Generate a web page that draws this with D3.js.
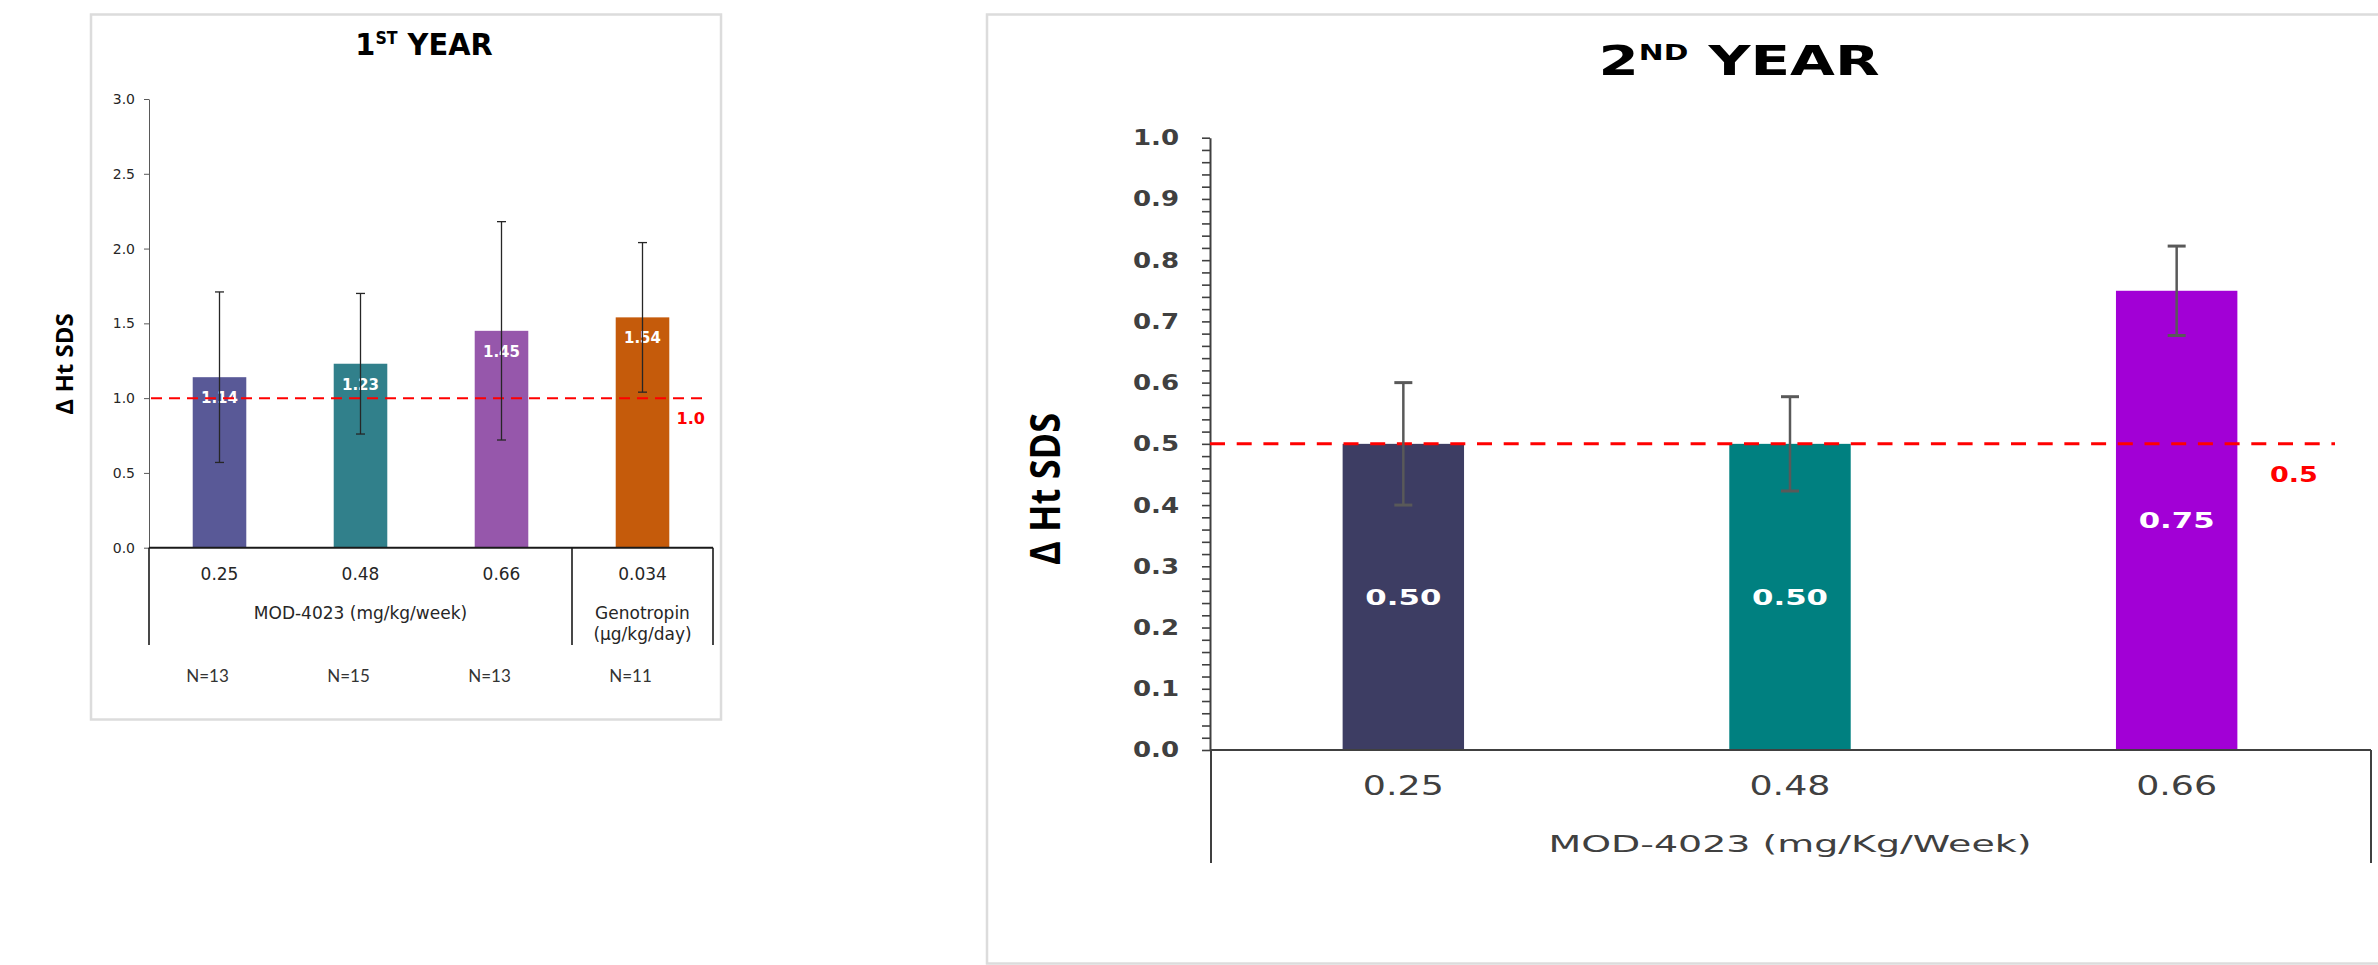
<!DOCTYPE html>
<html>
<head>
<meta charset="utf-8">
<script src="https://cdn.jsdelivr.net/npm/d3@7"></script>
<style>
  body { margin: 0; background: #fff; }
  svg { display: block; }
</style>
</head>
<body>
<div id="chart"></div>
<script>

// 1st year: change in height SDS per dose group
var year1Doses  = ["0.25", "0.48", "0.66", "0.034"];
var year1Means  = [1.14, 1.23, 1.45, 1.54];
var year1Errors = [0.57, 0.47, 0.73, 0.50];
var year1Counts = ["N=13", "N=15", "N=13", "N=11"];
var year1Ticks  = [0, 0.5, 1.0, 1.5, 2.0, 2.5, 3.0];
var year1Target = 1.0;

// 2nd year
var year2Doses  = ["0.25", "0.48", "0.66"];
var year2Means  = [0.50, 0.50, 0.75];
var year2Errors = [0.10, 0.077, 0.073];
var year2Ticks  = [0, 0.1, 0.2, 0.3, 0.4, 0.5, 0.6, 0.7, 0.8, 0.9, 1.0];
var year2Target = 0.5;

var svg = d3.select("#chart").append("svg")
  .attr("width", 2378)
  .attr("height", 965);

// widen a text element horizontally around its own x/y anchor
function stretch(sel, sx) {
  sel.attr("transform", function() {
    var x = +this.getAttribute("x"), y = +this.getAttribute("y");
    return "translate(" + x + "," + y + ") scale(" + sx + ",1) translate(" + (-x) + "," + (-y) + ")";
  });
}

/*
 * Left panel - 1st year
 */
function drawYear1() {
  var g = svg.append("g");

  g.append("rect")
    .attr("x", 91).attr("y", 14.5)
    .attr("width", 630).attr("height", 705)
    .attr("fill", "#fff")
    .attr("stroke", "#dcdcdc")
    .attr("stroke-width", 2.5);

  var data = year1Doses.map(function(d, i) {
    return {dose: d, mean: year1Means[i], err: year1Errors[i], n: year1Counts[i]};
  });

  // Scales
  var x = d3.scaleBand().domain(year1Doses).range([149, 713]);
  var y = d3.scaleLinear().domain([0, 3]).range([547.7, 99]);
  var color = d3.scaleOrdinal().domain(year1Doses)
    .range(["#595997", "#31808b", "#9657ab", "#c55b0b"]);
  var bw = x.bandwidth() * 0.38;
  var cx = function(d) { return x(d.dose) + x.bandwidth() / 2; };

  // Y axis
  g.append("g")
    .attr("transform", "translate(149,0)")
    .call(d3.axisLeft(y).tickValues(year1Ticks).tickSize(5).tickSizeOuter(0)
      .tickPadding(9).tickFormat(d3.format(".1f")))
    .call(function(a) {
      a.select(".domain").attr("stroke", "#595959");
      a.selectAll(".tick line").attr("stroke", "#595959");
      a.selectAll("text")
        .attr("font-family", "DejaVu Sans")
        .attr("font-size", 14)
        .attr("fill", "#262626");
    });

  // Bars
  g.selectAll(".bar1").data(data).enter().append("rect")
    .attr("class", "bar1")
    .attr("x", function(d) { return cx(d) - bw / 2; })
    .attr("width", bw)
    .attr("y", function(d) { return y(d.mean); })
    .attr("height", function(d) { return y(0) - y(d.mean); })
    .attr("fill", function(d) { return color(d.dose); });

  // value labels
  g.selectAll(".val1").data(data).enter().append("text")
    .attr("class", "val1")
    .attr("x", cx)
    .attr("y", function(d) { return y(d.mean) + 26; })
    .attr("text-anchor", "middle")
    .attr("font-family", "DejaVu Sans")
    .attr("font-weight", "bold")
    .attr("font-size", 15)
    .attr("fill", "#fff")
    .text(function(d) { return d.mean.toFixed(2); });

  // reference line
  g.append("line")
    .attr("x1", x.range()[0] + 2).attr("x2", x.range()[1] - 6)
    .attr("y1", y(year1Target)).attr("y2", y(year1Target))
    .attr("stroke", "#ff0000")
    .attr("stroke-width", 2)
    .attr("stroke-dasharray", "11,7");

  g.append("text")
    .attr("x", x.range()[1] - 36.5)
    .attr("y", y(year1Target) + 25.5)
    .attr("font-family", "DejaVu Sans")
    .attr("font-weight", "bold")
    .attr("font-size", 16)
    .attr("fill", "#ff0000")
    .text(year1Target.toFixed(1));

  // Error bars
  var eb = g.selectAll(".err1").data(data).enter().append("g")
    .attr("class", "err1")
    .attr("stroke", "#262626")
    .attr("stroke-width", 1.3);
  eb.append("line")
    .attr("x1", cx).attr("x2", cx)
    .attr("y1", function(d) { return y(d.mean + d.err); })
    .attr("y2", function(d) { return y(d.mean - d.err); });
  eb.append("line")
    .attr("x1", function(d) { return cx(d) - 4.5; })
    .attr("x2", function(d) { return cx(d) + 4.5; })
    .attr("y1", function(d) { return y(d.mean + d.err); })
    .attr("y2", function(d) { return y(d.mean + d.err); });
  eb.append("line")
    .attr("x1", function(d) { return cx(d) - 4.5; })
    .attr("x2", function(d) { return cx(d) + 4.5; })
    .attr("y1", function(d) { return y(d.mean - d.err); })
    .attr("y2", function(d) { return y(d.mean - d.err); });

  // Category axis (table-like)
  var boxBottom = 645;
  g.append("line")
    .attr("x1", x.range()[0]).attr("x2", x.range()[1])
    .attr("y1", y(0)).attr("y2", y(0))
    .attr("stroke", "#1a1a1a").attr("stroke-width", 2);
  [x.range()[0], x("0.034"), x.range()[1]].forEach(function(xx) {
    g.append("line")
      .attr("x1", xx).attr("x2", xx)
      .attr("y1", y(0)).attr("y2", boxBottom)
      .attr("stroke", "#1a1a1a").attr("stroke-width", 1.6);
  });

  g.selectAll(".cat1").data(data).enter().append("text")
    .attr("class", "cat1")
    .attr("x", cx)
    .attr("y", 580)
    .attr("text-anchor", "middle")
    .attr("font-family", "DejaVu Sans")
    .attr("font-size", 17)
    .attr("fill", "#262626")
    .text(function(d) { return d.dose; });

  g.append("text")
    .attr("x", (x.range()[0] + x("0.034")) / 2)
    .attr("y", 618.5)
    .attr("text-anchor", "middle")
    .attr("font-family", "DejaVu Sans")
    .attr("font-size", 17)
    .attr("fill", "#262626")
    .text("MOD-4023 (mg/kg/week)");

  var gx = x("0.034") + x.bandwidth() / 2;
  g.append("text")
    .attr("x", gx).attr("y", 618.5)
    .attr("text-anchor", "middle")
    .attr("font-family", "DejaVu Sans")
    .attr("font-size", 17)
    .attr("fill", "#262626")
    .text("Genotropin");
  g.append("text")
    .attr("x", gx).attr("y", 640)
    .attr("text-anchor", "middle")
    .attr("font-family", "DejaVu Sans")
    .attr("font-size", 17)
    .attr("fill", "#262626")
    .text("(\u00b5g/kg/day)");

  // sample sizes
  g.selectAll(".n1").data(data).enter().append("text")
    .attr("class", "n1")
    .attr("x", function(d) { return cx(d) - 12; })
    .attr("y", 681.5)
    .attr("text-anchor", "middle")
    .attr("font-family", "Lato")
    .attr("font-size", 17)
    .attr("fill", "#333")
    .text(function(d) { return d.n; });

  // Title
  var t = g.append("text")
    .attr("x", 424).attr("y", 55)
    .attr("text-anchor", "middle")
    .attr("font-family", "DejaVu Sans")
    .attr("font-weight", "bold")
    .attr("font-size", 31)
    .attr("fill", "#000");
  t.append("tspan").text("1");
  t.append("tspan").attr("dy", -11).attr("font-size", 17).text("ST");
  t.append("tspan").attr("dy", 11).text(" YEAR");
  stretch(t, 0.93);

  // Axis label
  g.append("text")
    .attr("transform", "translate(65,364) rotate(-90)")
    .attr("text-anchor", "middle")
    .attr("dy", "0.35em")
    .attr("font-family", "Open Sans")
    .attr("font-weight", "bold")
    .attr("font-size", 24)
    .attr("fill", "#000")
    .text("\u0394 Ht SDS");
}

/*
 * Right panel - 2nd year
 */
function drawYear2() {
  var g = svg.append("g");

  g.append("rect")
    .attr("x", 987).attr("y", 14.5)
    .attr("width", 1500).attr("height", 949)
    .attr("fill", "#fff")
    .attr("stroke", "#dcdcdc")
    .attr("stroke-width", 2.5);

  var data = year2Doses.map(function(d, i) {
    return {dose: d, mean: year2Means[i], err: year2Errors[i]};
  });

  // Scales
  var x = d3.scaleBand().domain(year2Doses).range([1210, 2370]);
  var y = d3.scaleLinear().domain([0, 1]).range([750, 137.7]);
  var color = d3.scaleOrdinal().domain(year2Doses)
    .range(["#3d3d63", "#008080", "#a200d6"]);
  var bw = x.bandwidth() * 0.314;
  var cx = function(d) { return x(d.dose) + x.bandwidth() / 2; };

  // Y axis: minor ticks every 0.02, labels every 0.1
  g.append("g")
    .attr("transform", "translate(1210,0)")
    .call(d3.axisLeft(y).tickValues(d3.range(0, 51).map(function(i) { return i / 50; }))
      .tickSize(8).tickSizeOuter(0).tickFormat(""))
    .call(function(a) {
      a.select(".domain").attr("stroke", "#404040").attr("stroke-width", 2);
      a.selectAll(".tick line").attr("stroke", "#404040").attr("stroke-width", 1.6);
    });

  g.selectAll(".tick2").data(year2Ticks).enter().append("text")
    .attr("class", "tick2")
    .attr("x", 1179)
    .attr("y", function(d) { return y(d) + 7.5; })
    .attr("text-anchor", "end")
    .attr("font-family", "DejaVu Sans")
    .attr("font-weight", "bold")
    .attr("font-size", 20.5)
    .attr("fill", "#404040")
    .text(function(d) { return d.toFixed(1); })
    .call(stretch, 1.27);

  // Bars
  g.selectAll(".bar2").data(data).enter().append("rect")
    .attr("class", "bar2")
    .attr("x", function(d) { return cx(d) - bw / 2; })
    .attr("width", bw)
    .attr("y", function(d) { return y(d.mean); })
    .attr("height", function(d) { return y(0) - y(d.mean); })
    .attr("fill", function(d) { return color(d.dose); });

  g.selectAll(".val2").data(data).enter().append("text")
    .attr("class", "val2")
    .attr("x", cx)
    .attr("y", function(d) { return y(d.mean / 2) + 8; })
    .attr("text-anchor", "middle")
    .attr("font-family", "DejaVu Sans")
    .attr("font-weight", "bold")
    .attr("font-size", 22)
    .attr("fill", "#fff")
    .text(function(d) { return d.mean.toFixed(2); })
    .call(stretch, 1.4);

  // reference line
  g.append("line")
    .attr("x1", x.range()[0]).attr("x2", x.range()[1] - 35)
    .attr("y1", y(year2Target)).attr("y2", y(year2Target))
    .attr("stroke", "#ff0000")
    .attr("stroke-width", 3)
    .attr("stroke-dasharray", "15,11.7");

  g.append("text")
    .attr("x", x.range()[1] - 100)
    .attr("y", y(year2Target) + 38)
    .attr("font-family", "DejaVu Sans")
    .attr("font-weight", "bold")
    .attr("font-size", 22)
    .attr("fill", "#ff0000")
    .text(year2Target.toFixed(1))
    .call(stretch, 1.23);

  // Error bars
  var eb = g.selectAll(".err2").data(data).enter().append("g")
    .attr("class", "err2")
    .attr("stroke", "#595959")
    .attr("stroke-width", 2.5);
  eb.append("line")
    .attr("x1", cx).attr("x2", cx)
    .attr("y1", function(d) { return y(d.mean + d.err); })
    .attr("y2", function(d) { return y(d.mean - d.err); });
  eb.append("line")
    .attr("stroke-width", 3)
    .attr("x1", function(d) { return cx(d) - 9; })
    .attr("x2", function(d) { return cx(d) + 9; })
    .attr("y1", function(d) { return y(d.mean + d.err); })
    .attr("y2", function(d) { return y(d.mean + d.err); });
  eb.append("line")
    .attr("stroke-width", 3)
    .attr("x1", function(d) { return cx(d) - 9; })
    .attr("x2", function(d) { return cx(d) + 9; })
    .attr("y1", function(d) { return y(d.mean - d.err); })
    .attr("y2", function(d) { return y(d.mean - d.err); });

  // Category axis
  var boxBottom = 863;
  g.append("line")
    .attr("x1", x.range()[0]).attr("x2", x.range()[1] + 1)
    .attr("y1", y(0)).attr("y2", y(0))
    .attr("stroke", "#404040").attr("stroke-width", 2);
  [x.range()[0] + 1, x.range()[1] + 1].forEach(function(xx) {
    g.append("line")
      .attr("x1", xx).attr("x2", xx)
      .attr("y1", y(0)).attr("y2", boxBottom)
      .attr("stroke", "#404040").attr("stroke-width", 2);
  });

  g.selectAll(".cat2").data(data).enter().append("text")
    .attr("class", "cat2")
    .attr("x", cx)
    .attr("y", 795.5)
    .attr("text-anchor", "middle")
    .attr("font-family", "DejaVu Sans")
    .attr("font-size", 26)
    .attr("fill", "#404040")
    .text(function(d) { return d.dose; })
    .call(stretch, 1.4);

  g.append("text")
    .attr("x", (x.range()[0] + x.range()[1]) / 2)
    .attr("y", 852.5)
    .attr("text-anchor", "middle")
    .attr("font-family", "DejaVu Sans")
    .attr("font-size", 23)
    .attr("fill", "#404040")
    .text("MOD-4023 (mg/Kg/Week)")
    .call(stretch, 1.65);

  // Title
  var t = g.append("text")
    .attr("x", 1739).attr("y", 75)
    .attr("text-anchor", "middle")
    .attr("font-family", "DejaVu Sans")
    .attr("font-weight", "bold")
    .attr("font-size", 40)
    .attr("fill", "#000");
  t.append("tspan").text("2");
  t.append("tspan").attr("dy", -15).attr("font-size", 20.5).text("ND");
  t.append("tspan").attr("dy", 15).text(" YEAR");
  stretch(t, 1.45);

  // Axis label
  g.append("text")
    .attr("transform", "translate(1046,489) scale(1.35,1) rotate(-90)")
    .attr("text-anchor", "middle")
    .attr("dy", "0.35em")
    .attr("font-family", "Open Sans")
    .attr("font-weight", "bold")
    .attr("font-size", 30)
    .attr("textLength", 152)
    .attr("lengthAdjust", "spacingAndGlyphs")
    .attr("fill", "#000")
    .text("\u0394 Ht SDS");
}

drawYear1();
drawYear2();

</script>
</body>
</html>
